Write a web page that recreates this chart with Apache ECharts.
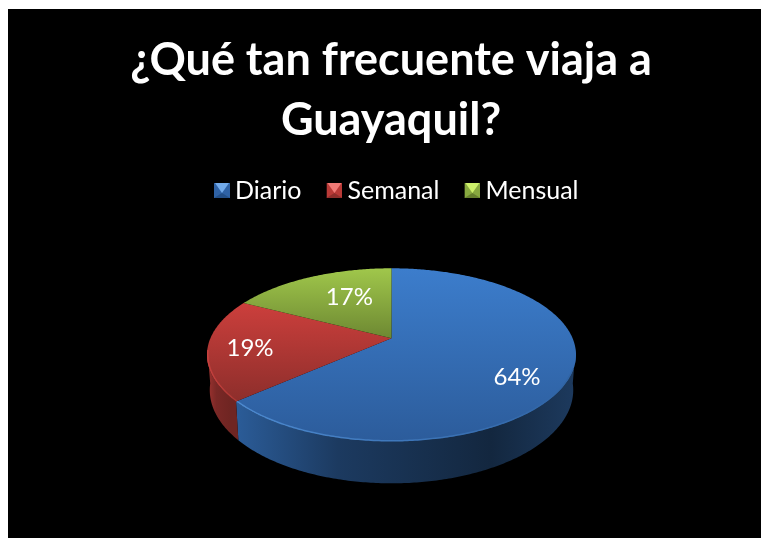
<!DOCTYPE html>
<html><head><meta charset="utf-8">
<style>html,body{margin:0;padding:0;background:#fff}#c{width:761px;height:538px}</style>
<script src="https://cdn.jsdelivr.net/npm/echarts@6/dist/echarts.min.js"></script>
</head><body><div id="c"></div>
<script>
const titleText = '¿Qué tan frecuente viaja a\nGuayaquil?';
const categories = ['Diario', 'Semanal', 'Mensual'];
const values = [63.5, 19.1, 17.4];

// styling per slice
const topColors = [['#3c7dcc', '#2c5c9b'], ['#cc3f3c', '#8d2e2b'], ['#a0c74b', '#6d8832']];
const sideColors = [['#2b5c98', '#1c3a60', '#13273f', '#1d3a5e'], ['#a03330', '#7a2826', '#6f2522', '#6f2522'], ['#6d8832', '#6d8832', '#6d8832', '#6d8832']];
const rimColors = [['#4d8ad0', '#2f63a3'], ['#c9423f', '#a83532'], ['#a0c74b', '#a0c74b']];
const iconColors = [['#72aaea', '#2f62a5', '#234f88'], ['#f07a76', '#b93a37', '#8f2e2b'], ['#cdf06a', '#88a93f', '#66802d']];
const labelRadius = [0.763, 0.773, 0.60];
const labelTurn = [9, 0, 6];
const labelDrop = [1, 2, 0];

// projected disc layout
const disc = { cx: 391.5, cy: 338.3, farY: 70, nearY: 103, halfW: 184.5, depth: 34, shrink: 0.985 };
const k = (disc.nearY - disc.farY) / (disc.nearY + disc.farY);
const B = disc.farY * (1 + k);
const A = disc.halfW * Math.sqrt(1 - k * k);
const rad = d => d * Math.PI / 180;
function project(deg, r) {
  const s = r * Math.sin(rad(deg)), c = r * Math.cos(rad(deg));
  const w = 1 + k * c;
  return [disc.cx + A * s / w, disc.cy - B * c / w];
}
function projectBottom(deg) {
  const s = Math.sin(rad(deg)), c = Math.cos(rad(deg));
  const w = 1 + k * c;
  return [disc.cx + disc.shrink * A * s / w, disc.cy - B * c / w + disc.depth / w];
}
function arc(a, b, fn) {
  const n = Math.max(2, Math.ceil(Math.abs(b - a) * 1.5)), pts = [];
  for (let i = 0; i <= n; i++) pts.push(fn(a + (b - a) * i / n));
  return pts;
}
const total = values.reduce((p, v) => p + v, 0);
function sliceRange(i) {
  let a = 0;
  for (let j = 0; j < i; j++) a += values[j];
  return [a / total * 360, (a + values[i]) / total * 360];
}
const vert = (c) => ({ type: 'linear', x: 0, y: 0, x2: 0, y2: 1, colorStops: [{ offset: 0, color: c[0] }, { offset: 1, color: c[1] }] });
const horiz = (c) => ({ type: 'linear', x: 0, y: 0, x2: 1, y2: 0, colorStops: c.map((col, i) => ({ offset: [0, 0.3, 0.75, 1][i], color: col })) });
const fromLeft = (c) => ({ type: 'linear', x: 0, y: 0, x2: 1, y2: 0, colorStops: [{ offset: 0, color: c[0] }, { offset: 1, color: c[1] }] });

function renderSlice(params, api) {
  const i = api.value(0);
  const [a, b] = sliceRange(i);
  const children = [];
  const va = Math.max(a, 97), vb = Math.min(b, 263);
  if (vb > va) {
    const rim = arc(va, vb, d => project(d, 1));
    const low = arc(vb, va, projectBottom);
    children.push({ type: 'polygon', shape: { points: rim.concat(low) }, style: { fill: horiz(sideColors[i]) } });
  }
  children.push({ type: 'polygon', shape: { points: [project(0, 0)].concat(arc(a, b, d => project(d, 1))) }, style: { fill: vert(topColors[i]) } });
  const ra = Math.max(a, 110), rb = Math.min(b, 262);
  if (rb > ra) {
    children.push({ type: 'polyline', shape: { points: arc(rb, ra, d => project(d, 0.996)) }, style: { fill: null, stroke: fromLeft(rimColors[i]), lineWidth: 1.5 } });
  }
  const mid = (a + b) / 2 + labelTurn[i];
  const p = project(mid, labelRadius[i]);
  children.push({
    type: 'text', z2: 50,
    style: { x: p[0], y: p[1] + labelDrop[i], text: Math.round(values[i] / total * 100) + '%', fill: '#fff', font: '24px Lato', textAlign: 'center', textVerticalAlign: 'middle' }
  });
  return { type: 'group', children };
}
function iconFor(c) {
  const svg = `<svg xmlns="http://www.w3.org/2000/svg" width="16" height="15"><rect width="16" height="15" fill="${c[1]}"/><polygon points="0,15 16,15 8,10" fill="${c[2]}"/><polygon points="1,0 15,0 8,10" fill="${c[0]}"/></svg>`;
  return 'image://data:image/svg+xml;charset=utf-8,' + encodeURIComponent(svg);
}
const chart = echarts.init(document.getElementById('c'), null, { renderer: 'canvas' });
chart.setOption({
  animation: false,
  backgroundColor: '#fff',
  title: {
    text: titleText, left: 391, top: 30, padding: 0, textAlign: 'center',
    textStyle: { color: '#fff', fontFamily: 'Lato', fontWeight: 'bold', fontSize: 45, lineHeight: 60 }
  },
  legend: {
    left: 214, top: 178, padding: 0, itemWidth: 16, itemHeight: 15, itemGap: 25, selectedMode: false,
    data: categories.map((n, i) => ({ name: n, icon: iconFor(iconColors[i]) })),
    textStyle: { color: '#fff', fontFamily: 'Lato', fontSize: 25 }
  },
  graphic: [{ type: 'rect', z: -100, silent: true, shape: { x: 8, y: 9, width: 753, height: 529 }, style: { fill: '#000' } }],
  series: categories.map((n, i) => ({
    type: 'custom', name: n, coordinateSystem: 'none', silent: true,
    itemStyle: { color: topColors[i][0] },
    renderItem: renderSlice, data: [[i]]
  }))
});
</script></body></html>
